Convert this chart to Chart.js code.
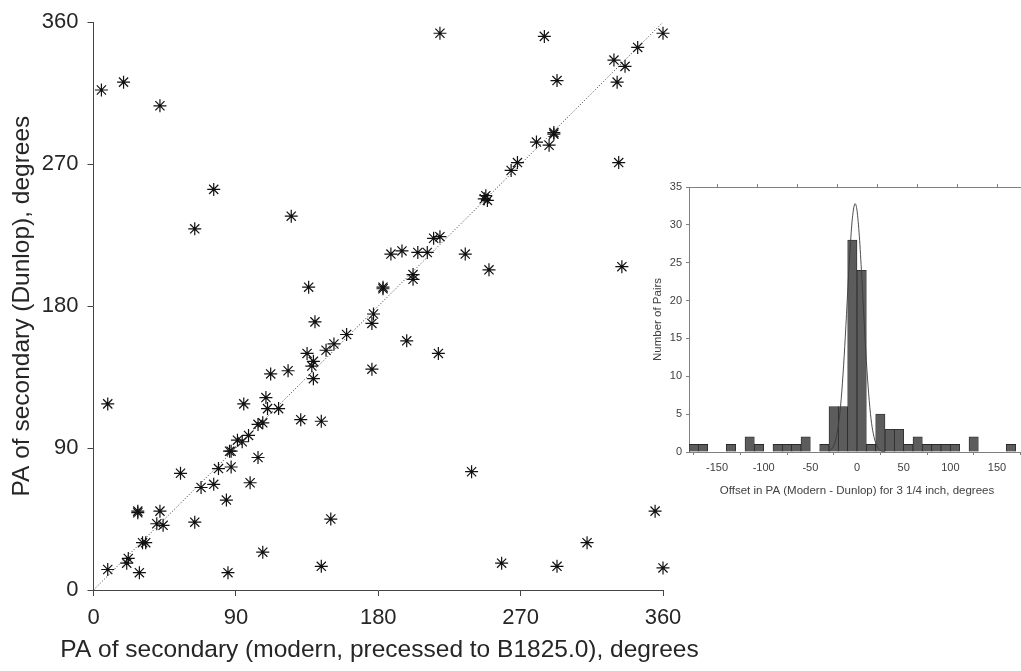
<!DOCTYPE html>
<html>
<head>
<meta charset="utf-8">
<script src="https://cdn.jsdelivr.net/npm/chart.js@4.4.1/dist/chart.umd.min.js"></script>
<style>
  html, body { margin: 0; padding: 0; background: #fff; overflow: hidden; }
  #wrap { position: relative; width: 1021px; height: 671px; overflow: hidden; }
  #main { position: absolute; left: 0; top: 0; }
  #inset { position: absolute; left: 630px; top: 175px; }
</style>
</head>
<body>
<div id="wrap">
  <canvas id="main" width="1021" height="671"></canvas>
  <canvas id="inset" width="410" height="340"></canvas>
</div>
<script>
(function () {
    "use strict";

    // PA of secondary, modern (precessed to B1825.0) vs Dunlop, degrees
    const modernPA = [219, 285, 360, 344, 329, 336, 331, 293, 5, 19, 42, 291, 291, 288, 280, 268, 264, 332, 76, 247,
        248, 249, 64, 125, 215, 219, 188, 195, 205, 211, 235, 334, 250, 202, 202, 183, 183, 136, 140, 176,
        177, 160, 152, 147, 198, 135, 139, 138, 218, 139, 176, 112, 123, 109, 95, 9, 110, 117, 104, 107,
        131, 144, 91, 94, 98, 86, 87, 104, 79, 87, 55, 239, 68, 76, 99, 84, 28, 28, 42, 40,
        44, 64, 150, 355, 31, 33, 312, 107, 22, 21, 9, 29, 85, 144, 258, 293, 360];
    const dunlopPA = [353, 351, 353, 344, 336, 332, 322, 323, 317, 322, 307, 289, 290, 282, 284, 271, 266, 271, 254, 248,
        250, 247, 229, 237, 223, 224, 213, 215, 214, 214, 213, 205, 203, 200, 197, 191, 192, 192, 170, 169,
        175, 162, 156, 152, 158, 150, 145, 142, 150, 134, 140, 137, 139, 122, 118, 118, 115, 115, 105, 106,
        108, 107, 95, 94, 98, 88, 88, 84, 77, 78, 74, 75, 65, 67, 68, 57, 50, 49, 50, 42,
        41, 43, 45, 50, 30, 30, 30, 24, 20, 17, 13, 11, 11, 15, 17, 15, 14];

    // one-to-one reference line
    const diagX = [0, 360];
    const diagY = [0, 360];
    const mainTicks = [0, 90, 180, 270, 360];

    // histogram of offsets, 10 degree bins
    const binCentres = [-175, -165, -155, -145, -135, -125, -115, -105, -95, -85, -75, -65, -55, -45, -35, -25, -15, -5,
        5, 15, 25, 35, 45, 55, 65, 75, 85, 95, 105, 115, 125, 135, 145, 155, 165, 175];
    const pairCounts = [1, 1, 0, 0, 1, 0, 2, 1, 0, 1, 1, 1, 2, 0, 1, 6, 6, 28,
        24, 1, 5, 3, 3, 1, 2, 1, 1, 1, 1, 0, 2, 0, 0, 0, 1, 0];

    // fitted curve drawn over the histogram
    const fitX = [-30, -25, -22.5, -20, -17.5, -15, -12.5, -10, -7.5, -5, -2, 0, 2.5, 5, 7.5, 10, 12.5, 15, 17.5, 20, 22.5, 25, 30];
    const fitY = [0.1, 0.8, 1.8, 3.5, 6.2, 10.2, 15.3, 21.1, 26.6, 30.8, 32.8, 31.9, 28.5, 23.4, 17.6, 12.1, 7.7, 4.4, 2.4, 1.2, 0.5, 0.2, 0];

    const FONT = "'Liberation Sans', Arial, Helvetica, sans-serif";
    const txt = '#262626';
    const axisCol = '#444';

    Chart.defaults.font.family = FONT;

    const pairs = modernPA.map((x, i) => ({ x: x, y: dunlopPA[i] }));
    const diag = diagX.map((x, i) => ({ x: x, y: diagY[i] }));

    // x title goes in the chart title box so it is not squeezed to the axis width
    new Chart(document.getElementById('main'), {
        type: 'scatter',
        data: {
            datasets: [{
                type: 'line',
                data: diag,
                borderColor: '#333',
                borderWidth: 1,
                borderDash: [1, 2],
                pointRadius: 0,
                fill: false
            }, {
                data: pairs,
                pointStyle: 'star',
                pointRadius: 6.5,
                borderColor: '#111',
                borderWidth: 1.2,
                backgroundColor: '#111',
                clip: false
            }]
        },
        options: {
            responsive: false,
            animation: false,
            layout: { padding: { left: 0, top: 19, right: 262, bottom: 0 } },
            plugins: {
                legend: { display: false },
                tooltip: { enabled: false },
                title: {
                    display: true,
                    position: 'bottom',
                    text: 'PA of secondary (modern, precessed to B1825.0), degrees',
                    color: txt,
                    font: { size: 24.5, weight: 'normal' },
                    padding: { top: 0, bottom: 6.3 }
                }
            },
            scales: {
                x: {
                    type: 'linear',
                    min: 0, max: 360,
                    afterFit: s => { s.height = 45.3; },
                    afterBuildTicks: s => { s.ticks = mainTicks.map(v => ({ value: v })); },
                    grid: { drawOnChartArea: false, drawTicks: true, tickLength: 6, color: axisCol },
                    border: { display: true, color: axisCol, width: 1 },
                    ticks: { color: txt, font: { size: 22 }, padding: 9, maxRotation: 0 }
                },
                y: {
                    type: 'linear',
                    min: 0, max: 360,
                    afterFit: s => { s.width = 93.5; },
                    afterBuildTicks: s => { s.ticks = mainTicks.map(v => ({ value: v })); },
                    grid: { drawOnChartArea: false, drawTicks: true, tickLength: 6, color: axisCol },
                    border: { display: true, color: axisCol, width: 1 },
                    ticks: { color: txt, font: { size: 22 }, padding: 9 },
                    title: {
                        display: true,
                        text: 'PA of secondary (Dunlop), degrees',
                        color: txt, font: { size: 24.5 }, padding: { top: 8 }
                    }
                },
                spare: {
                    type: 'linear',
                    position: 'right',
                    afterFit: s => { s.width = 96; },
                    grid: { display: false },
                    border: { display: false },
                    ticks: { display: false }
                }
            }
        }
    });

    const bars = binCentres.map((x, i) => ({ x: x, y: pairCounts[i] }));
    const fit = fitX.map((x, i) => ({ x: x, y: fitY[i] }));
    const insetTxt = '#404040';
    const insetAxis = '#808080';

    new Chart(document.getElementById('inset'), {
        type: 'bar',
        data: {
            datasets: [{
                type: 'bar',
                data: bars,
                backgroundColor: '#5c5c5c',
                borderColor: '#2a2a2a',
                borderWidth: 0.8,
                barPercentage: 1,
                categoryPercentage: 1,
                order: 2
            }, {
                type: 'line',
                data: fit,
                borderColor: '#3a3a3a',
                borderWidth: 0.9,
                pointRadius: 0,
                cubicInterpolationMode: 'monotone',
                fill: false,
                order: 1
            }]
        },
        options: {
            responsive: false,
            animation: false,
            layout: { padding: { left: 0, top: 12, right: 15, bottom: 0 } },
            plugins: { legend: { display: false }, tooltip: { enabled: false } },
            scales: {
                x: {
                    type: 'linear',
                    min: -180, max: 180,
                    offset: false,
                    afterFit: s => { s.height = 63; },
                    grid: { drawOnChartArea: false, drawTicks: true, tickLength: 3, color: insetAxis },
                    border: { display: true, color: insetAxis, width: 1 },
                    ticks: { stepSize: 50, includeBounds: false, color: insetTxt, font: { size: 11 }, padding: 6, maxRotation: 0 },
                    title: {
                        display: true,
                        text: 'Offset in PA (Modern - Dunlop) for 3 1/4 inch, degrees',
                        color: insetTxt, font: { size: 11.5 }, padding: { bottom: 17 }
                    }
                },
                xTop: {
                    type: 'linear',
                    position: 'top',
                    min: -180, max: 180,
                    afterFit: s => { s.height = 0; },
                    grid: { drawOnChartArea: false, drawTicks: true, tickLength: 3, color: insetAxis },
                    border: { display: true, color: insetAxis, width: 1 },
                    ticks: { stepSize: 50, includeBounds: false, display: false }
                },
                y: {
                    type: 'linear',
                    min: 0, max: 35,
                    afterFit: s => { s.width = 59; },
                    grid: { drawOnChartArea: false, drawTicks: true, tickLength: 3, color: insetAxis },
                    border: { display: true, color: insetAxis, width: 1 },
                    ticks: { stepSize: 5, color: insetTxt, font: { size: 11 }, padding: 4 },
                    title: {
                        display: true,
                        text: 'Number of Pairs',
                        color: insetTxt, font: { size: 11.5 }, padding: { top: 21 }
                    }
                }
            }
        }
    });
}());
</script>
</body>
</html>
